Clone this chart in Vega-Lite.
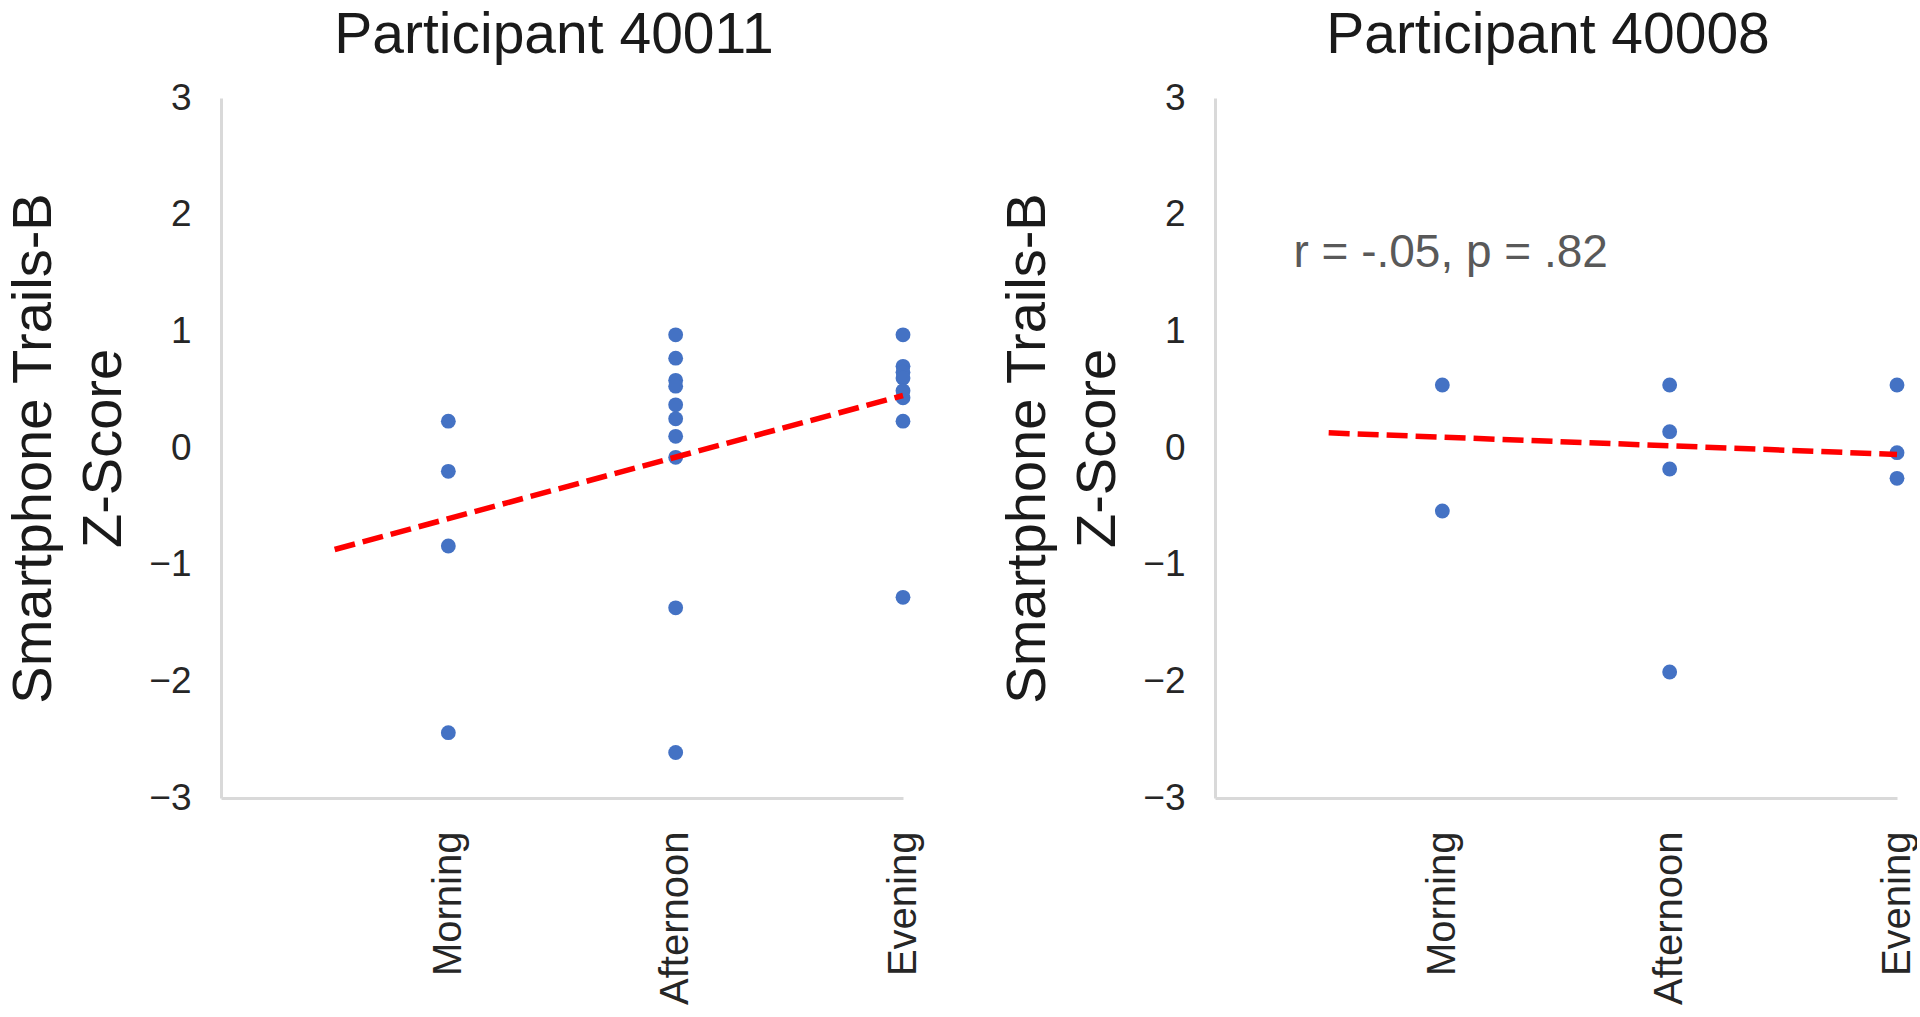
{
  "$schema": "https://vega.github.io/schema/vega-lite/v6.json",
  "background": "white",
  "padding": {"left": 5, "top": 7, "right": 0, "bottom": 0},
  "spacing": 76,
  "datasets": {
    "points": [
      {"participant": "40011", "time": "Morning", "slot": 1, "z": 0.23},
      {"participant": "40011", "time": "Morning", "slot": 1, "z": -0.20},
      {"participant": "40011", "time": "Morning", "slot": 1, "z": -0.84},
      {"participant": "40011", "time": "Morning", "slot": 1, "z": -2.44},
      {"participant": "40011", "time": "Afternoon", "slot": 2, "z": 0.97},
      {"participant": "40011", "time": "Afternoon", "slot": 2, "z": 0.77},
      {"participant": "40011", "time": "Afternoon", "slot": 2, "z": 0.58},
      {"participant": "40011", "time": "Afternoon", "slot": 2, "z": 0.53},
      {"participant": "40011", "time": "Afternoon", "slot": 2, "z": 0.37},
      {"participant": "40011", "time": "Afternoon", "slot": 2, "z": 0.25},
      {"participant": "40011", "time": "Afternoon", "slot": 2, "z": 0.10},
      {"participant": "40011", "time": "Afternoon", "slot": 2, "z": -0.08},
      {"participant": "40011", "time": "Afternoon", "slot": 2, "z": -1.37},
      {"participant": "40011", "time": "Afternoon", "slot": 2, "z": -2.61},
      {"participant": "40011", "time": "Evening", "slot": 3, "z": 0.97},
      {"participant": "40011", "time": "Evening", "slot": 3, "z": 0.70},
      {"participant": "40011", "time": "Evening", "slot": 3, "z": 0.65},
      {"participant": "40011", "time": "Evening", "slot": 3, "z": 0.60},
      {"participant": "40011", "time": "Evening", "slot": 3, "z": 0.49},
      {"participant": "40011", "time": "Evening", "slot": 3, "z": 0.43},
      {"participant": "40011", "time": "Evening", "slot": 3, "z": 0.23},
      {"participant": "40011", "time": "Evening", "slot": 3, "z": -1.28},
      {"participant": "40008", "time": "Morning", "slot": 1, "z": 0.54},
      {"participant": "40008", "time": "Morning", "slot": 1, "z": -0.54},
      {"participant": "40008", "time": "Afternoon", "slot": 2, "z": 0.54},
      {"participant": "40008", "time": "Afternoon", "slot": 2, "z": 0.14},
      {"participant": "40008", "time": "Afternoon", "slot": 2, "z": -0.18},
      {"participant": "40008", "time": "Afternoon", "slot": 2, "z": -1.92},
      {"participant": "40008", "time": "Evening", "slot": 3, "z": 0.54},
      {"participant": "40008", "time": "Evening", "slot": 3, "z": -0.04},
      {"participant": "40008", "time": "Evening", "slot": 3, "z": -0.26}
    ],
    "trends": [
      {"participant": "40011", "slot": 0.5, "z": -0.87},
      {"participant": "40011", "slot": 3, "z": 0.45},
      {"participant": "40008", "slot": 0.5, "z": 0.13},
      {"participant": "40008", "slot": 3, "z": -0.055}
    ],
    "notes": [
      {"participant": "40008", "slot": 0.345, "z": 1.67, "label": "r = -.05, p = .82"}
    ]
  },
  "config": {
    "view": {"stroke": null},
    "font": "Liberation Sans",
    "title": {"fontSize": 57, "font": "Liberation Sans", "fontWeight": "normal", "color": "#1a1a1a", "anchor": "middle", "offset": 14, "dx": -8},
    "axis": {
      "domainColor": "#D9D9D9",
      "domainWidth": 3,
      "grid": false,
      "ticks": false,
      "tickSize": 0,
      "labelFont": "Liberation Sans",
      "labelColor": "#262626",
      "titleFont": "Liberation Sans",
      "titleFontWeight": "normal",
      "titleColor": "#1a1a1a"
    }
  },
  "hconcat": [
    {
      "width": 682,
      "height": 700,
      "title": "Participant 40011",
      "layer": [
        {
          "data": {"name": "points"},
          "transform": [{"filter": "datum.participant == '40011'"}],
          "mark": {"type": "circle", "size": 220, "opacity": 1, "color": "#4472C4"},
          "encoding": {
            "x": {"field": "slot", "type": "quantitative", "scale": {"domain": [0, 3], "nice": false, "zero": false},
              "axis": {"values": [1, 2, 3], "labelExpr": "datum.value == 1 ? 'Morning' : datum.value == 2 ? 'Afternoon' : 'Evening'", "labelAngle": -90, "labelFontSize": 40, "labelPadding": 33, "labelFlush": false, "labelOverlap": false, "title": null}},
            "y": {"field": "z", "type": "quantitative", "scale": {"domain": [-3, 3], "nice": false},
              "axis": {"values": [-3, -2, -1, 0, 1, 2, 3], "format": "d", "labelFontSize": 37, "labelPadding": 30, "title": ["Smartphone Trails-B", "Z-Score"], "titleFontSize": 56, "titleLineHeight": 70, "titlePadding": 16}}
          }
        },
        {
          "data": {"name": "trends"},
          "transform": [{"filter": "datum.participant == '40011'"}],
          "mark": {"type": "line", "color": "#FF0000", "strokeWidth": 5.5, "strokeDash": [21, 8]},
          "encoding": {
            "x": {"field": "slot", "type": "quantitative"},
            "y": {"field": "z", "type": "quantitative"}
          }
        }
      ]
    },
    {
      "width": 682,
      "height": 700,
      "title": "Participant 40008",
      "layer": [
        {
          "data": {"name": "points"},
          "transform": [{"filter": "datum.participant == '40008'"}],
          "mark": {"type": "circle", "size": 220, "opacity": 1, "color": "#4472C4"},
          "encoding": {
            "x": {"field": "slot", "type": "quantitative", "scale": {"domain": [0, 3], "nice": false, "zero": false},
              "axis": {"values": [1, 2, 3], "labelExpr": "datum.value == 1 ? 'Morning' : datum.value == 2 ? 'Afternoon' : 'Evening'", "labelAngle": -90, "labelFontSize": 40, "labelPadding": 33, "labelFlush": false, "labelOverlap": false, "title": null}},
            "y": {"field": "z", "type": "quantitative", "scale": {"domain": [-3, 3], "nice": false},
              "axis": {"values": [-3, -2, -1, 0, 1, 2, 3], "format": "d", "labelFontSize": 37, "labelPadding": 30, "title": ["Smartphone Trails-B", "Z-Score"], "titleFontSize": 56, "titleLineHeight": 70, "titlePadding": 16}}
          }
        },
        {
          "data": {"name": "trends"},
          "transform": [{"filter": "datum.participant == '40008'"}],
          "mark": {"type": "line", "color": "#FF0000", "strokeWidth": 5.5, "strokeDash": [21, 8]},
          "encoding": {
            "x": {"field": "slot", "type": "quantitative"},
            "y": {"field": "z", "type": "quantitative"}
          }
        },
        {
          "data": {"name": "notes"},
          "mark": {"type": "text", "align": "left", "baseline": "middle", "fontSize": 46, "color": "#595959"},
          "encoding": {
            "x": {"field": "slot", "type": "quantitative"},
            "y": {"field": "z", "type": "quantitative"},
            "text": {"field": "label"}
          }
        }
      ]
    }
  ]
}
